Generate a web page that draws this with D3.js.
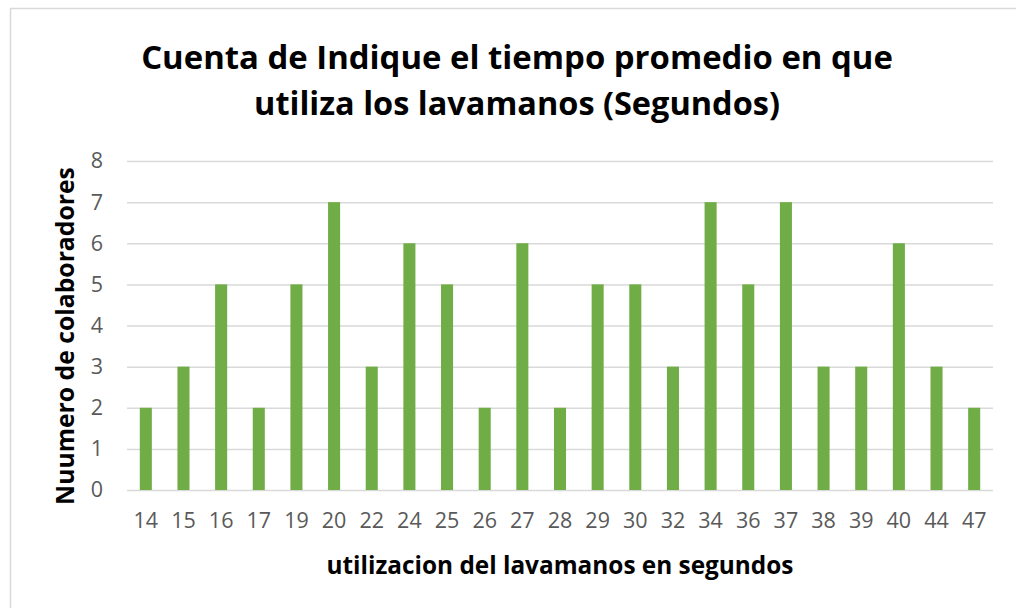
<!DOCTYPE html>
<html>
<head>
<meta charset="utf-8">
<script src="https://cdn.jsdelivr.net/npm/d3@7"></script>
<style>
  body { margin: 0; background: #fff; }
  text { font-family: "Open Sans", sans-serif; }
</style>
</head>
<body>
<svg id="root"></svg>
<script>
// Count of people per average sink time (seconds)
const categories = ["14", "15", "16", "17", "19", "20", "22", "24", "25", "26", "27", "28",
  "29", "30", "32", "34", "36", "37", "38", "39", "40", "44", "47"];
const counts = [2, 3, 5, 2, 5, 7, 3, 6, 5, 2, 6, 2, 5, 5, 3, 7, 5, 7, 3, 3, 6, 3, 2];
const yTicks = [0, 1, 2, 3, 4, 5, 6, 7, 8];
const titleLines = ["Cuenta de Indique el tiempo promedio en que", "utiliza los lavamanos (Segundos)"];
const xTitle = "utilizacion del lavamanos en segundos";
const yTitle = "Nuumero de colaboradores";

const W = 1016, H = 608;
const margin = { top: 161, right: 23, bottom: 118, left: 127 },
  width = W - margin.left - margin.right,
  height = H - margin.top - margin.bottom;

const svg = d3.select("#root").attr("width", W).attr("height", H);

// chart frame (only left and top edges fall inside the picture)
svg.append("rect")
  .attr("x", 10.5).attr("y", 8.5)
  .attr("width", W + 20).attr("height", H + 20)
  .attr("fill", "none").attr("stroke", "#d9d9d9").attr("stroke-width", 1.5);

const g = svg.append("g").attr("transform", `translate(${margin.left},${margin.top})`);

const x = d3.scaleBand(categories, [0, width]).paddingInner(0.68).paddingOuter(0.34);
const y = d3.scaleLinear([0, 8], [height, 0]);

// gridlines
g.append("g")
  .call(d3.axisLeft(y).tickValues(yTicks).tickSize(-width).tickFormat(""))
  .call(s => s.select(".domain").remove())
  .selectAll("line").attr("stroke", "#d9d9d9").attr("stroke-width", 1.5);

// bars
g.selectAll(".bar")
  .data(counts)
  .join("rect")
  .attr("class", "bar")
  .attr("x", (d, i) => x(categories[i]))
  .attr("y", d => y(d))
  .attr("width", x.bandwidth())
  .attr("height", d => height - y(d))
  .attr("fill", "#70ad47");

// y axis labels
g.append("g")
  .call(d3.axisLeft(y).tickValues(yTicks).tickSize(0).tickPadding(24))
  .call(s => s.select(".domain").remove())
  .selectAll("text")
  .attr("fill", "#595959").style("font-size", "21.5px").style("font-family", "Open Sans");

// x axis labels
g.append("g")
  .attr("transform", `translate(0,${height})`)
  .call(d3.axisBottom(x).tickSize(0).tickPadding(23))
  .call(s => s.select(".domain").remove())
  .selectAll("text")
  .attr("fill", "#595959").style("font-size", "21.5px").style("font-family", "Open Sans");

// fit a text element's font size to a target width
function fit(t, target) {
  let fs = parseFloat(t.style("font-size"));
  const w = t.node().getComputedTextLength();
  t.style("font-size", (fs * target / w) + "px");
}

// title
const t1 = svg.append("text").attr("x", 517).attr("y", 69)
  .attr("text-anchor", "middle").attr("font-weight", "bold")
  .style("font-size", "32px").attr("fill", "#000").text(titleLines[0]);
fit(t1, 752);
const t2 = svg.append("text").attr("x", 517).attr("y", 115)
  .attr("text-anchor", "middle").attr("font-weight", "bold")
  .style("font-size", "32px").attr("fill", "#000").text(titleLines[1]);
fit(t2, 526);

// axis titles
const xt = svg.append("text").attr("x", 560).attr("y", 574)
  .attr("text-anchor", "middle").attr("font-weight", "bold")
  .style("font-size", "22px").attr("fill", "#000").text(xTitle);
fit(xt, 467);

const yt = svg.append("text")
  .attr("transform", "translate(74,336) rotate(-90)")
  .attr("text-anchor", "middle").attr("font-weight", "bold")
  .style("font-size", "22px").attr("fill", "#000").text(yTitle);
fit(yt, 338);
</script>
</body>
</html>
